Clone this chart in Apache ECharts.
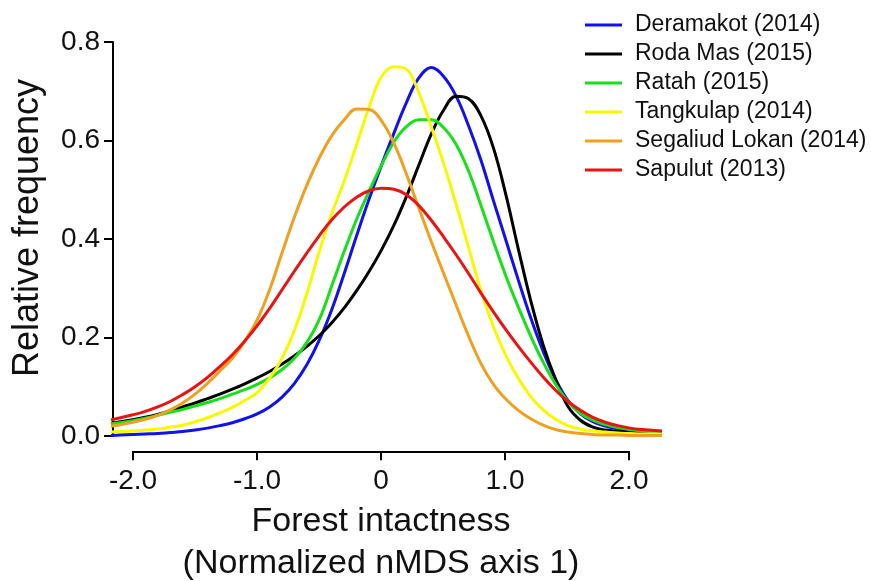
<!DOCTYPE html>
<html>
<head>
<meta charset="utf-8">
<script src="https://cdn.jsdelivr.net/npm/echarts@6/dist/echarts.min.js"></script>
<style>
  html, body { margin: 0; padding: 0; background: #fff; }
  #main { width: 871px; height: 581px; }
</style>
</head>
<body>
<div id="main"></div>
<script>
// x positions of the density estimates, -2.2 .. 2.3 in steps of 0.1
var xs = [-2.2, -2.1, -2.0, -1.9, -1.8, -1.7, -1.6, -1.5, -1.4, -1.3, -1.2, -1.1, -1.0, -0.9, -0.8, -0.7, -0.6, -0.5, -0.4, -0.3, -0.2, -0.1,
          0, 0.1, 0.2, 0.3, 0.4, 0.5, 0.6, 0.7, 0.8, 0.9, 1.0, 1.1, 1.2, 1.3, 1.4, 1.5, 1.6, 1.7, 1.8, 1.9, 2.0, 2.1, 2.2, 2.3];

var deramakot = [0.001, 0.002, 0.003, 0.004, 0.005, 0.007, 0.009, 0.012, 0.016, 0.021, 0.027, 0.035, 0.045, 0.059, 0.079, 0.107, 0.145, 0.195, 0.257, 0.33, 0.407, 0.481,
                 0.55, 0.615, 0.677, 0.727, 0.748, 0.73, 0.69, 0.63, 0.56, 0.478, 0.398, 0.317, 0.24, 0.172, 0.115, 0.072, 0.045, 0.029, 0.02, 0.014, 0.01, 0.007, 0.005, 0.004];
var rodaMas = [0.025, 0.029, 0.033, 0.038, 0.044, 0.051, 0.059, 0.067, 0.076, 0.085, 0.095, 0.106, 0.118, 0.131, 0.146, 0.163, 0.182, 0.204, 0.23, 0.26, 0.295, 0.334,
               0.378, 0.428, 0.486, 0.55, 0.613, 0.662, 0.69, 0.685, 0.65, 0.585, 0.49, 0.38, 0.275, 0.185, 0.115, 0.06, 0.032, 0.018, 0.012, 0.009, 0.007, 0.005, 0.004, 0.004];
var ratah = [0.024, 0.027, 0.031, 0.036, 0.042, 0.048, 0.054, 0.061, 0.068, 0.076, 0.085, 0.094, 0.105, 0.118, 0.135, 0.158, 0.19, 0.237, 0.305, 0.375, 0.44, 0.497,
             0.55, 0.597, 0.628, 0.642, 0.642, 0.626, 0.592, 0.538, 0.468, 0.395, 0.325, 0.262, 0.203, 0.15, 0.105, 0.07, 0.046, 0.032, 0.023, 0.017, 0.013, 0.01, 0.009, 0.008];
var tangkulap = [0.008, 0.009, 0.01, 0.012, 0.014, 0.018, 0.022, 0.029, 0.037, 0.047, 0.058, 0.072, 0.088, 0.118, 0.158, 0.215, 0.29, 0.375, 0.452, 0.518, 0.592, 0.668,
                 0.73, 0.75, 0.745, 0.697, 0.628, 0.553, 0.47, 0.383, 0.295, 0.222, 0.163, 0.117, 0.08, 0.053, 0.034, 0.021, 0.014, 0.01, 0.008, 0.006, 0.005, 0.004, 0.004, 0.004];
var segaliud = [0.019, 0.023, 0.028, 0.034, 0.042, 0.053, 0.067, 0.085, 0.107, 0.132, 0.158, 0.192, 0.236, 0.297, 0.372, 0.445, 0.51, 0.565, 0.61, 0.642, 0.664, 0.663,
                0.64, 0.594, 0.532, 0.463, 0.395, 0.33, 0.266, 0.203, 0.147, 0.105, 0.075, 0.052, 0.035, 0.022, 0.013, 0.008, 0.005, 0.003, 0.002, 0.002, 0.001, 0.001, 0.001, 0.001];
var sapulut = [0.032, 0.037, 0.043, 0.05, 0.059, 0.07, 0.084, 0.1, 0.119, 0.141, 0.165, 0.193, 0.224, 0.259, 0.297, 0.335, 0.372, 0.407, 0.439, 0.465, 0.485, 0.498,
               0.503, 0.501, 0.49, 0.468, 0.438, 0.404, 0.368, 0.33, 0.29, 0.252, 0.216, 0.182, 0.15, 0.12, 0.093, 0.07, 0.052, 0.038, 0.028, 0.021, 0.016, 0.013, 0.011, 0.01];

var seriesNames = ['Deramakot (2014)', 'Roda Mas (2015)', 'Ratah (2015)', 'Tangkulap (2014)', 'Segaliud Lokan (2014)', 'Sapulut (2013)'];
var seriesValues = [deramakot, rodaMas, ratah, tangkulap, segaliud, sapulut];
var colors = ['#1010f0', '#000000', '#18e018', '#f8f800', '#f0a020', '#e81414'];

var xTickLabels = ['-2.0', '-1.0', '0', '1.0', '2.0'];

var font = 'Liberation Sans, Arial, sans-serif';

function pairs(vals) {
  return xs.map(function (x, i) { return [x, vals[i]]; });
}

var chart = echarts.init(document.getElementById('main'));

chart.setOption({
  animation: false,
  backgroundColor: '#fff',
  color: colors,
  textStyle: { fontFamily: font },
  legend: {
    orient: 'vertical',
    left: 580,
    top: 8,
    itemWidth: 37,
    itemHeight: 3,
    itemGap: 5,
    icon: 'rect',
    data: seriesNames,
    textStyle: { fontSize: 23, color: '#111', fontFamily: font, lineHeight: 24, padding: [0, 0, 0, 8] }
  },
  grid: [
    { left: 113, top: 42, right: 211, bottom: 145 },
    { left: 133, width: 496, top: 451, height: 1 }
  ],
  graphic: [{
    type: 'text',
    x: 28,
    y: 228,
    rotation: Math.PI / 2,
    style: {
      text: 'Relative frequency',
      fontSize: 36,
      fontFamily: font,
      fill: '#111',
      align: 'center',
      verticalAlign: 'middle'
    }
  }],
  xAxis: [
    { type: 'value', gridIndex: 0, min: -2.16, max: 2.24, show: false },
    {
      type: 'value', gridIndex: 1, min: -2, max: 2, interval: 1,
      axisLine: { show: true, onZero: false, lineStyle: { color: '#000', width: 2 } },
      axisTick: { show: true, length: 9, lineStyle: { color: '#000', width: 2 } },
      splitLine: { show: false },
      axisLabel: {
        fontSize: 28, color: '#111', margin: 16, fontFamily: font,
        formatter: function (v) { return xTickLabels[Math.round(v) + 2]; }
      },
      name: 'Forest intactness\n(Normalized nMDS axis 1)',
      nameLocation: 'middle',
      nameGap: 49,
      nameTextStyle: { fontSize: 34, color: '#111', lineHeight: 42, fontFamily: font, verticalAlign: 'top' }
    }
  ],
  yAxis: [
    {
      type: 'value', gridIndex: 0, min: 0, max: 0.8, interval: 0.2,
      axisLine: { show: true, onZero: false, lineStyle: { color: '#000', width: 2 } },
      axisTick: { show: true, length: 9, lineStyle: { color: '#000', width: 2 } },
      splitLine: { show: false },
      axisLabel: {
        fontSize: 28, color: '#111', margin: 13, fontFamily: font,
        formatter: function (v) { return v.toFixed(1); }
      }
    },
    { type: 'value', gridIndex: 1, show: false }
  ],
  series: seriesValues.map(function (vals, i) {
    return {
      name: seriesNames[i],
      type: 'line',
      xAxisIndex: 0,
      yAxisIndex: 0,
      data: pairs(vals),
      smooth: 0.4,
      showSymbol: false,
      clip: true,
      lineStyle: { width: 3, color: colors[i] }
    };
  })
});
</script>
</body>
</html>
